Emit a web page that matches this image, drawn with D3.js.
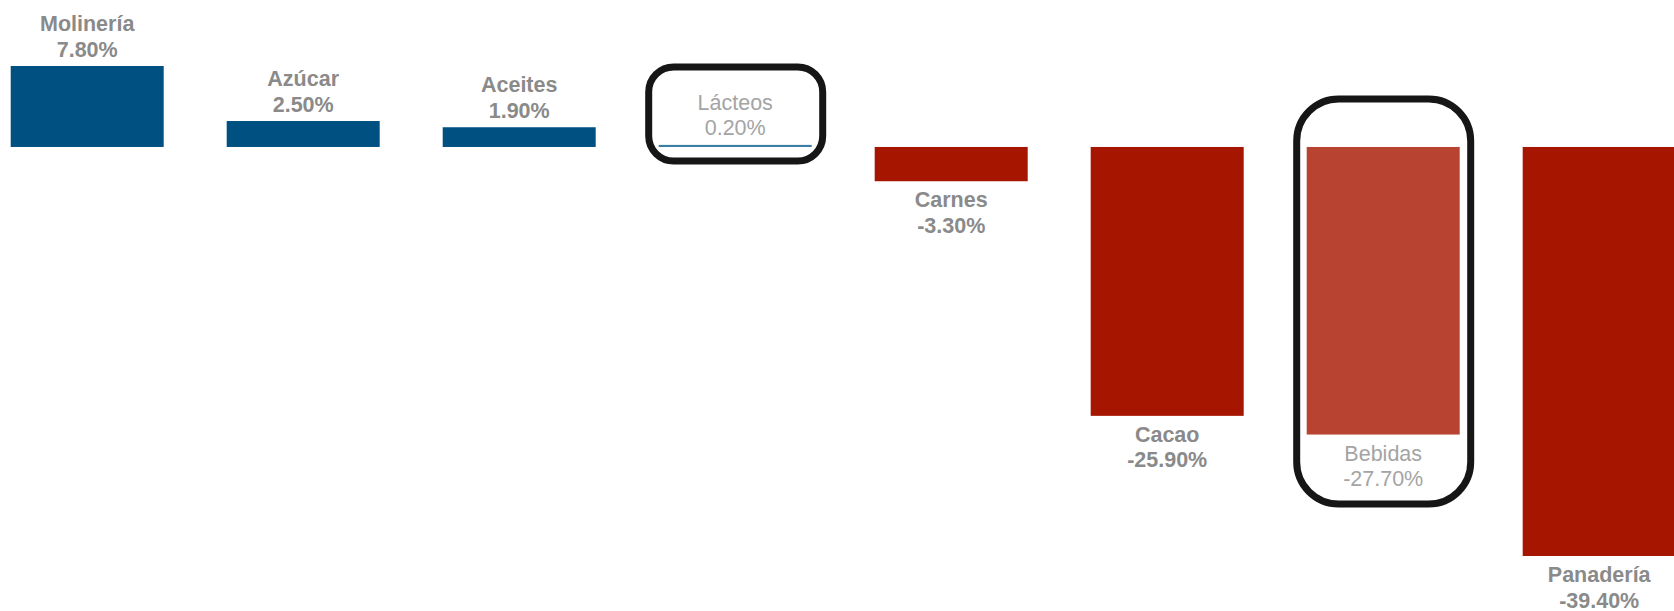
<!DOCTYPE html>
<html>
<head>
<meta charset="utf-8">
<script src="https://cdn.jsdelivr.net/npm/d3@7"></script>
<style>
  html, body { margin: 0; padding: 0; background: #ffffff; }
  svg { display: block; }
  text { font-family: "Liberation Sans", Arial, sans-serif; }
</style>
</head>
<body>
<svg id="chart" width="1674" height="611"></svg>
<script>
const categories = ["Molinería", "Azúcar", "Aceites", "Lácteos", "Carnes", "Cacao", "Bebidas", "Panadería"];
const values = [7.8, 2.5, 1.9, 0.2, -3.3, -25.9, -27.7, -39.4];
const highlighted = ["Lácteos", "Bebidas"];

const W = 1674, H = 611;
const svg = d3.select("#chart");

const step = 216, barW = 153;
const pIn = (step - barW) / step;
const x0 = 10.7 - pIn * step / 2;
const x = d3.scaleBand()
  .domain(categories)
  .range([x0, x0 + step * categories.length])
  .paddingInner(pIn)
  .paddingOuter(pIn / 2);

const y = d3.scaleLinear()
  .domain([d3.min(values), d3.max(values)])
  .range([556, 66]);

const locale = d3.formatLocale({ decimal: ".", thousands: ",", grouping: [3], currency: ["", ""], minus: "-" });
const fmt = v => locale.format(".2f")(v) + "%";
const data = categories.map((c, i) => ({ c, v: values[i], hl: highlighted.includes(c) }));

const colorOf = d => d.v >= 0 ? (d.hl ? "#3a7ca5" : "#005081") : (d.hl ? "#b84331" : "#a51500");

// bars
svg.append("g").selectAll("rect").data(data).join("rect")
  .attr("x", d => x(d.c))
  .attr("width", x.bandwidth())
  .attr("y", d => Math.min(y(d.v), y(0)))
  .attr("height", d => Math.max(Math.abs(y(d.v) - y(0)), 2))
  .attr("fill", colorOf);

// labels
const lineGap = 25.5;
const line1 = d => d.v >= 0 ? y(d.v) - 9.5 - lineGap : y(d.v) + 26;
const lbl = svg.append("g").selectAll("text").data(data).join("text")
  .attr("text-anchor", "middle")
  .attr("font-size", "21.5px")
  .attr("font-weight", d => d.hl ? "normal" : "bold")
  .attr("fill", d => d.hl ? "#a4a4a4" : "#8a8a8a");
lbl.append("tspan").attr("x", d => x(d.c) + x.bandwidth() / 2).attr("y", line1).text(d => d.c);
lbl.append("tspan").attr("x", d => x(d.c) + x.bandwidth() / 2).attr("y", d => line1(d) + lineGap).text(d => fmt(d.v));

// highlight boxes
svg.append("g").selectAll("rect").data(data.filter(d => d.hl)).join("rect")
  .attr("x", d => x(d.c) - 10)
  .attr("width", x.bandwidth() + 21)
  .attr("y", d => d.v >= 0 ? line1(d) - 43 : y(0) - 48)
  .attr("height", d => d.v >= 0 ? (y(0) + 14) - (line1(d) - 43) : (line1(d) + lineGap + 18) - (y(0) - 48))
  .attr("rx", d => d.v >= 0 ? 25 : 42)
  .attr("ry", d => d.v >= 0 ? 25 : 42)
  .attr("fill", "none")
  .attr("stroke", "#161616")
  .attr("stroke-width", 7);
</script>
</body>
</html>
